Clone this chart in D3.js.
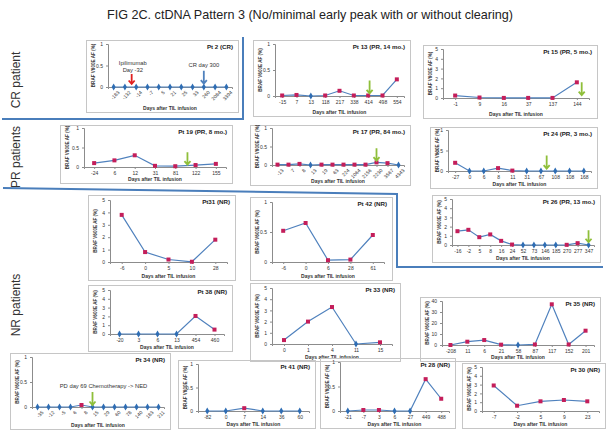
<!DOCTYPE html>
<html><head><meta charset="utf-8">
<script src="https://cdn.jsdelivr.net/npm/d3@7"></script>
<style>body{margin:0;background:#fff}svg{display:block}</style>
</head><body>
<script>
// ---------- DATA ----------
const pt2Days = ["-183","-132","-14","-7","5","21","25","33","260","2084","3394"];
const pt2AF   = [0,0,0,0,0,0,0,0,0,0,0];
const pt2Det  = ["b","b","b","b","b","b","b","b","b","b","b"];

const pt13Days = ["-15","7","13","118","217","338","414","498","554"];
const pt13AF   = [0.01,0.02,0,0.01,0.1,0.01,0.01,0.01,0.32];
const pt13Det  = ["r","r","b","r","r","r","r","r","r"];

const pt15Days = ["-1","9","16","37","137","144"];
const pt15AF   = [0.25,0.05,0.01,0.01,0.01,1.6];
const pt15Det  = ["r","r","r","r","r","r"];

const pt19Days = ["-24","6","12","31","81","122","155"];
const pt19AF   = [0.1,0.17,0.3,0.03,0.02,0.05,0.08];
const pt19Det  = ["r","r","r","r","r","r","r"];

const pt17Days = ["-13","7","8","13","19","63","224","1064","2156","2230","3567","4343"];
const pt17AF   = [0.01,0.01,0.03,0,0.01,0.01,0.01,0.01,0.01,0.07,0.05,0];
const pt17Det  = ["r","r","r","b","r","r","r","r","r","r","r","b"];

const pt24Days = ["-27","0","6","8","11","31","67","108","108","168"];
const pt24AF   = [0.2,0,0,0.07,0.01,0,0,0,0,0];
const pt24Det  = ["r","b","b","r","r","b","b","b","b","b"];

const pt31Days = ["-6","0","5","10","28"];
const pt31AF   = [3.8,0.8,0.2,0.02,1.8];
const pt31Det  = ["r","r","r","r","r"];

const pt42Days = ["-6","0","6","28","61"];
const pt42AF   = [0.52,0.65,0.03,0.04,0.45];
const pt42Det  = ["r","r","r","r","r"];

const pt26Days = ["-16","-2","5","8","16","24","52","73","146","185","270","277","347"];
const pt26AF   = [1.5,1.65,0.85,1.15,0.45,0.05,0,0,0,0,0.02,0.2,0];
const pt26Det  = ["r","r","r","r","r","r","b","b","b","b","r","r","b"];

const pt38Days = ["-20","3","6","13","454","460"];
const pt38AF   = [0,0,0,0,2.05,0.5];
const pt38Det  = ["b","b","b","b","r","r"];

const pt33Days = ["0","1","4","11","15"];
const pt33AF   = [0.35,2.0,3.3,0,0.15];
const pt33Det  = ["r","r","r","b","r"];

const pt35Days = ["-208","11","6","21","58","87","117","152","201"];
const pt35AF   = [0,3,4.5,0.3,0,0.5,37,0.5,13];
const pt35Det  = ["r","r","r","r","b","r","r","r","r"];

const pt34Days = ["-35","-12","-5","6","8","15","29","60","78","140","183","211"];
const pt34AF   = [0,0,0,0,0.04,0,0,0,0,0,0,0];
const pt34Det  = ["b","b","b","b","r","b","b","b","b","b","b","b"];

const pt41Days = ["-82","0","7","14","36","60"];
const pt41AF   = [0,0,0.06,0,0,0];
const pt41Det  = ["b","b","r","b","b","b"];

const pt28Days = ["-21","-7","3","6","27","449","488"];
const pt28AF   = [0,0.02,0.02,0,0,0.65,0.25];
const pt28Det  = ["b","r","r","b","b","r","r"];

const pt30Days = ["-7","-2","5","9","23"];
const pt30AF   = [2.9,0.6,1.1,1.25,1.1];
const pt30Det  = ["r","r","r","r","r"];

const ticks01 = [0,0.5,1];
const ticks05 = [0,1,2,3,4,5];
const ticks40 = [0,10,20,30,40];

// ---------- LAYOUT ----------
const W = 612, H = 433;
const FONT = "'Liberation Sans', Arial, sans-serif";
const LINE = "#4f81bd", RED = "#c41e5a", BLUE = "#2e6db4", GREEN = "#8fbf3a";

const svg = d3.select("body").append("svg").attr("width", W).attr("height", H)
  .style("font-family", FONT);

svg.append("text").attr("x", 310).attr("y", 19).attr("text-anchor", "middle")
  .attr("font-size", 12.6).attr("fill", "#222")
  .text("FIG 2C.  ctDNA Pattern 3 (No/minimal early peak with or without clearing)");

[["CR patient", 80], ["PR patients", 157], ["NR patients", 305]].forEach(([t, cy]) => {
  svg.append("text").attr("transform", `translate(20,${cy}) rotate(-90)`)
    .attr("text-anchor", "middle").attr("font-size", 12).attr("fill", "#333").text(t);
});

// section separators
svg.append("path").attr("d", "M2,119H243V37").attr("fill", "none").attr("stroke", "#4a7ebb").attr("stroke-width", 2);
svg.append("path").attr("d", "M3,188L397,194V267H603").attr("fill", "none").attr("stroke", "#4a7ebb").attr("stroke-width", 2);

function panel(c, days, af, det) {
  const [bx, by, bw, bh] = c.box, [ml, mt, mr, mb] = c.m;
  const g = svg.append("g");
  g.append("rect").attr("x", bx + 0.5).attr("y", by + 0.5).attr("width", bw).attr("height", bh)
    .attr("fill", "none").attr("stroke", "#c6c6c6");
  const L = bx + ml, T = by + mt, R = bx + bw - mr, B = by + bh - mb;
  const x = d3.scalePoint().domain(days.map((d, i) => i)).range([L, R]).padding(0.5);
  const y = d3.scaleLinear().domain([0, c.ymax]).range([B, T]);

  const ya = g.append("g").attr("transform", `translate(${L},0)`)
    .call(d3.axisLeft(y).tickValues(c.yticks).tickSize(2).tickPadding(3).tickFormat(d => d));
  ya.select(".domain").attr("stroke", "#8c8c8c");
  ya.selectAll(".tick line").attr("stroke", "#8c8c8c");
  ya.selectAll("text").attr("font-size", 5).attr("fill", "#333").style("font-family", FONT);

  const xa = g.append("g").attr("transform", `translate(0,${B})`)
    .call(d3.axisBottom(x).tickSize(2).tickPadding(2).tickFormat(i => days[i]));
  xa.select(".domain").attr("stroke", "#8c8c8c");
  xa.selectAll(".tick line").attr("stroke", "#8c8c8c");
  xa.selectAll("text").attr("font-size", 5).attr("fill", "#333").style("font-family", FONT);
  if (c.rotate) {
    xa.selectAll("text").attr("text-anchor", "end").attr("dy", "0.3em")
      .attr("transform", "translate(2,2) rotate(-45)");
  }

  g.append("text").attr("x", (L + R) / 2).attr("y", by + bh - 2.5).attr("text-anchor", "middle")
    .attr("font-size", 5).attr("font-weight", "bold").attr("fill", "#333").text("Days after TIL infusion");
  g.append("text").attr("transform", `translate(${bx + 9},${(T + B) / 2}) rotate(-90)`)
    .attr("text-anchor", "middle").attr("font-size", 4.6).attr("font-weight", "bold").attr("fill", "#333")
    .text("BRAF V600E AF (%)");
  g.append("text").attr("x", bx + bw - 5).attr("y", by + 9).attr("text-anchor", "end")
    .attr("font-size", 6.2).attr("font-weight", "bold").attr("fill", "#222").text(c.title);

  const pts = af.map((v, i) => [x(i), y(v)]);
  g.append("path").attr("d", d3.line()(pts)).attr("fill", "none").attr("stroke", LINE).attr("stroke-width", 1.2);
  pts.forEach((p, i) => {
    if (det[i] === "r") {
      g.append("rect").attr("x", p[0] - 2).attr("y", p[1] - 2).attr("width", 4).attr("height", 4).attr("fill", RED);
    } else {
      g.append("path").attr("d", d3.symbol(d3.symbolDiamond, 14)()).attr("transform", `translate(${p[0]},${p[1]})`).attr("fill", BLUE);
    }
  });

  (c.arrows || []).forEach(a => {
    const ax = x(a.i) + a.dx * x.step();
    const y1 = y(a.y1), y2 = y(a.y2);
    g.append("path").attr("d", `M${ax},${y1}V${y2}M${ax - 3},${y2 - 3.5}L${ax},${y2}L${ax + 3},${y2 - 3.5}`)
      .attr("fill", "none").attr("stroke", a.color || GREEN).attr("stroke-width", 1.8);
  });
  (c.notes || []).forEach(n => {
    g.append("text").attr("x", x(n.i) + n.dx * x.step()).attr("y", y(n.y)).attr("text-anchor", "middle")
      .attr("font-size", 5.8).attr("fill", "#333").text(n.t);
  });
}

panel({ box: [86, 40, 152, 72], m: [22, 4, 6, 25], ymax: 1, yticks: ticks01, rotate: true, title: "Pt 2 (CR)",
  arrows: [{ i: 2, dx: -0.4, y1: 0.3, y2: 0.07, color: "#e02020" }, { i: 8, dx: 0, y1: 0.38, y2: 0.08, color: "#4f81bd" }],
  notes: [{ i: 2, dx: -0.3, y: 0.52, t: "Ipilimumab" }, { i: 2, dx: -0.3, y: 0.35, t: "Day -32" }, { i: 8, dx: 0, y: 0.46, t: "CR day 300" }] },
  pt2Days, pt2AF, pt2Det);
panel({ box: [253, 40, 157, 76], m: [22, 4, 6, 20], ymax: 1, yticks: ticks01, title: "Pt 13 (PR, 14 mo.)",
  arrows: [{ i: 6, dx: 0.1, y1: 0.3, y2: 0.05 }] }, pt13Days, pt13AF, pt13Det);
panel({ box: [423, 45, 174, 73], m: [20, 4, 8, 20], ymax: 5, yticks: ticks05, title: "Pt 15 (PR, 5 mo.)",
  arrows: [{ i: 5, dx: 0.2, y1: 1.6, y2: 0.3 }] }, pt15Days, pt15AF, pt15Det);
panel({ box: [60, 125, 172, 58], m: [24, 3, 6, 16], ymax: 1, yticks: ticks01, title: "Pt 19 (PR, 8 mo.)",
  arrows: [{ i: 4, dx: 0.6, y1: 0.38, y2: 0.06 }] }, pt19Days, pt19AF, pt19Det);
panel({ box: [250, 125, 160, 60], m: [22, 3, 6, 20], ymax: 1, yticks: ticks01, rotate: true, title: "Pt 17 (PR, 84 mo.)",
  arrows: [{ i: 9, dx: 0, y1: 0.45, y2: 0.12 }] }, pt17Days, pt17AF, pt17Det);
panel({ box: [430, 127, 167, 61], m: [18, 3, 6, 17], ymax: 1, yticks: ticks01, title: "Pt 24 (PR, 3 mo.)",
  arrows: [{ i: 6, dx: 0.4, y1: 0.38, y2: 0.06 }] }, pt24Days, pt24AF, pt24Det);
panel({ box: [88, 195, 147, 85], m: [22, 5, 8, 18], ymax: 5, yticks: ticks05, title: "Pt31 (NR)" }, pt31Days, pt31AF, pt31Det);
panel({ box: [250, 197, 142, 83], m: [22, 5, 8, 18], ymax: 1, yticks: ticks01, title: "Pt 42 (NR)" }, pt42Days, pt42AF, pt42Det);
panel({ box: [432, 195, 168, 67], m: [20, 4, 6, 17], ymax: 5, yticks: ticks05, title: "Pt 26 (PR, 13 mo.)",
  arrows: [{ i: 12, dx: 0, y1: 1.6, y2: 0.3 }] }, pt26Days, pt26AF, pt26Det);
panel({ box: [88, 285, 144, 66], m: [22, 5, 8, 17], ymax: 5, yticks: ticks05, title: "Pt 38 (NR)" }, pt38Days, pt38AF, pt38Det);
panel({ box: [250, 283, 150, 78], m: [22, 5, 8, 17], ymax: 5, yticks: ticks05, title: "Pt 33 (NR)" }, pt33Days, pt33AF, pt33Det);
panel({ box: [420, 297, 180, 64], m: [22, 4, 6, 16], ymax: 40, yticks: ticks40, title: "Pt 35 (NR)" }, pt35Days, pt35AF, pt35Det);
panel({ box: [10, 353, 160, 76], m: [22, 4, 6, 22], ymax: 1, yticks: ticks01, rotate: true, title: "Pt 34 (NR)",
  arrows: [{ i: 5, dx: 0, y1: 0.3, y2: 0.04 }],
  notes: [{ i: 6, dx: 0, y: 0.38, t: "PD day 69 Chemotherapy -> NED" }] }, pt34Days, pt34AF, pt34Det);
panel({ box: [178, 360, 137, 68], m: [20, 4, 6, 17], ymax: 1, yticks: ticks01, title: "Pt 41 (NR)" }, pt41Days, pt41AF, pt41Det);
panel({ box: [320, 358, 135, 70], m: [20, 4, 6, 17], ymax: 1, yticks: ticks01, title: "Pt 28 (NR)" }, pt28Days, pt28AF, pt28Det);
panel({ box: [462, 363, 143, 65], m: [20, 4, 6, 17], ymax: 5, yticks: ticks05, title: "Pt 30 (NR)" }, pt30Days, pt30AF, pt30Det);
</script>
</body></html>
